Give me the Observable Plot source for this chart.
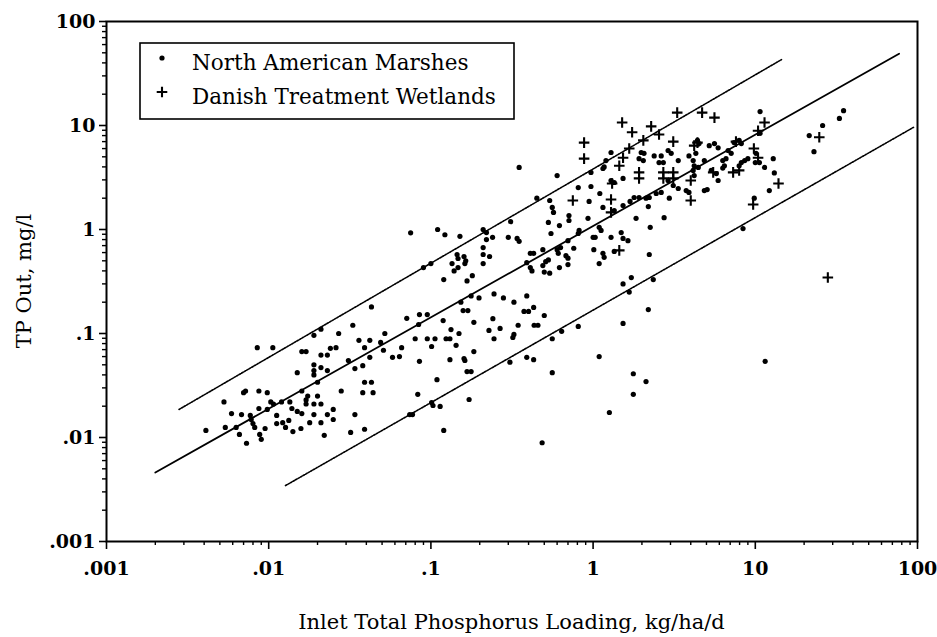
<!DOCTYPE html>
<html><head><meta charset="utf-8">
<script src="https://cdn.jsdelivr.net/npm/d3@7"></script>
<script src="https://cdn.jsdelivr.net/npm/@observablehq/plot@0.6"></script>
<style>
body{margin:0;background:#fff;}
#chart{width:937px;height:637px;}
</style></head><body><div id="chart"></div>
<script>
const tickValues = [0.001, 0.01, 0.1, 1, 10, 100];
const tickLabels = [".001", ".01", ".1", "1", "10", "100"];
const legendLabels = ["North American Marshes", "Danish Treatment Wetlands"];
const xLabel = "Inlet Total Phosphorus Loading, kg/ha/d";
const yLabel = "TP Out, mg/l";

// [inlet TP loading kg/ha/d, TP out mg/l]
const marshes = [
[0.043,0.18],[0.071,0.14],[0.0085,0.073],[0.0106,0.073],[0.019,0.096],[0.021,0.11],[0.027,0.10],[0.033,0.12],[0.052,0.10],[0.036,0.086],[0.042,0.086],[0.049,0.082],[0.016,0.067],[0.017,0.067],[0.024,0.072],[0.026,0.073],[0.021,0.062],[0.023,0.062],[0.039,0.073],[0.051,0.069],[0.066,0.073],[0.058,0.059],[0.064,0.060],[0.042,0.059],[0.031,0.055],[0.019,0.050],[0.019,0.044],[0.021,0.047],[0.023,0.044],[0.015,0.042],[0.034,0.046],[0.038,0.049],[0.019,0.040],[0.020,0.034],[0.039,0.034],[0.043,0.034],
[0.0072,0.028],[0.0070,0.027],[0.0087,0.028],[0.0098,0.027],[0.016,0.028],[0.028,0.028],[0.038,0.027],[0.044,0.027],[0.0053,0.022],[0.0103,0.022],[0.0107,0.021],[0.012,0.022],[0.0135,0.022],[0.017,0.023],[0.0174,0.025],[0.020,0.025],[0.017,0.021],[0.019,0.021],[0.021,0.021],[0.0087,0.019],[0.0098,0.0186],[0.0059,0.017],[0.0068,0.0166],[0.0077,0.0163],[0.0078,0.0149],[0.0112,0.0163],[0.0139,0.019],[0.015,0.0178],[0.016,0.017],[0.019,0.0166],[0.023,0.0166],[0.025,0.0186],[0.025,0.0149],[0.034,0.0166],[0.0041,0.0117],[0.0054,0.0125],[0.0063,0.0125],[0.0080,0.0136],[0.0082,0.0125],[0.0066,0.0107],[0.0095,0.0122],[0.0112,0.0136],[0.0122,0.0139],[0.0127,0.0125],[0.0133,0.0146],[0.0141,0.0114],[0.0158,0.0122],[0.0179,0.0139],[0.021,0.0139],[0.022,0.0105],[0.0088,0.0107],[0.0090,0.0096],[0.0073,0.0088],[0.032,0.0112],[0.039,0.012],[0.074,0.0166],
[0.090,0.43],[0.10,0.47],[0.135,0.47],[0.147,0.43],[0.162,0.47],[0.139,0.40],[0.21,0.47],[0.18,0.36],[0.167,0.32],[0.12,0.33],[0.39,0.48],[0.41,0.43],[0.50,0.39],[0.54,0.38],[0.51,0.49],[0.62,0.43],[0.70,0.46],[1.09,0.47],[1.72,0.345],[1.53,0.30],[1.67,0.25],[2.19,0.17],[1.53,0.125],
[0.177,0.23],[0.153,0.20],[0.198,0.22],[0.245,0.24],[0.28,0.22],[0.325,0.20],[0.39,0.23],[0.43,0.178],[0.375,0.163],[0.40,0.163],[0.50,0.149],[0.158,0.166],[0.169,0.166],[0.085,0.152],[0.095,0.152],[0.119,0.133],[0.184,0.128],[0.241,0.139],[0.084,0.122],[0.133,0.109],[0.149,0.10],[0.228,0.107],[0.267,0.112],[0.345,0.12],[0.433,0.12],[0.457,0.12],[0.325,0.098],[0.32,0.0915],[0.245,0.089],[0.080,0.089],[0.095,0.089],[0.106,0.089],[0.124,0.089],[0.131,0.089],[0.101,0.075],[0.143,0.077],[0.184,0.067],[0.085,0.054],[0.131,0.056],[0.16,0.0575],[0.162,0.055],[0.167,0.043],[0.177,0.043],[0.109,0.036],[0.307,0.053],[0.39,0.059],[0.43,0.056],[0.56,0.089],[0.64,0.105],[0.81,0.117],[0.56,0.042],[1.09,0.060],[1.77,0.041],[2.12,0.0345],[1.77,0.026],[1.26,0.0174],[0.083,0.026],[0.101,0.0217],[0.103,0.0203],[0.114,0.0199],[0.172,0.0232],[0.077,0.0166],[0.12,0.0117],[0.485,0.0089],[11.5,0.054],[2.35,0.33],[8.4,1.02],
[0.075,0.93],[0.11,1.0],[0.122,0.89],[0.151,0.86],[0.21,0.67],[0.21,0.575],[0.23,0.55],[0.145,0.575],[0.147,0.526],[0.16,0.55],[0.164,0.50],[0.35,3.95],[0.60,3.3],[0.45,2.0],[0.54,1.9],[0.56,1.63],[0.57,1.46],[0.53,1.17],[0.62,1.09],[0.55,0.915],[0.31,1.19],[0.21,1.0],[0.22,0.935],[0.22,0.80],[0.24,0.84],[0.30,0.84],[0.34,0.82],[0.35,0.77],[0.41,0.59],[0.43,0.59],[0.49,0.64],[0.60,0.64],[0.53,0.51],[0.49,0.45],[0.42,0.40],[0.63,0.67],[0.70,0.78],[0.76,0.66],
[4.4,7.2],[4.5,6.7],[5.2,6.4],[5.6,6.7],[5.9,6.1],[6.8,5.75],[1.29,5.5],[1.2,4.6],[1.17,4.0],[1.15,3.86],[1.98,5.5],[2.06,5.4],[1.92,4.8],[2.04,4.6],[2.38,5.1],[2.63,5.1],[2.55,4.4],[2.71,4.4],[2.9,5.75],[3.03,5.4],[3.35,4.6],[2.9,2.96],[3.12,2.65],[3.35,2.48],[3.9,5.1],[4.14,4.6],[4.2,4.1],[4.14,3.7],[4.45,3.95],[4.2,3.3],[4.3,5.4],[4.85,4.6],[5.35,3.7],[5.75,3.45],[5.9,2.96],[6.6,4.8],[3.75,2.37],[3.9,2.27],[4.85,2.37],[2.95,2.0],[2.63,2.27],[2.45,2.22],[2.22,2.03],[2.12,2.0],[1.53,3.1],[1.29,2.96],[1.35,2.83],[0.97,3.54],[0.81,2.53],[0.97,2.59],[1.1,2.22],[0.945,1.86],[1.15,1.63],[1.53,1.7],[1.69,1.86],[1.79,2.03],[1.92,2.03],[1.35,1.52],[2.19,1.66],[1.84,1.28],[2.74,1.3],[2.25,1.05],[0.71,1.36],[0.71,1.22],[0.93,1.28],[1.09,1.05],[0.82,0.98],[0.81,0.915],[1.49,0.935],[1.0,0.84],[1.03,0.84],[1.29,0.84],[1.53,0.82],[1.64,0.78],[0.61,0.59],[1.01,0.64],[1.15,0.59],[1.17,0.54],[1.35,0.615],[0.68,0.56],[0.70,0.53],[2.22,0.575],[1.12,0.98],
[10.7,13.6],[35,13.9],[33,11.7],[26,10],[21.5,8.0],[23,5.6],[7.4,6.85],[7.95,7.2],[8.2,6.7],[7.1,5.4],[6.3,4.6],[6.45,4.1],[8.2,4.4],[8.6,4.6],[9.0,4.8],[7.95,4.1],[10,4.4],[10.6,4.4],[11.4,3.95],[12.9,4.8],[13.1,3.5],[12.2,2.37],[9.85,2.0],[10.1,5.4],[10.7,8.4],[5.05,2.42],[6.3,3.9]
];

const danish = [
[3.3,13.3],[4.7,13.3],[5.6,11.9],[1.51,10.7],[1.74,8.6],[2.28,9.8],[2.55,8.2],[2.04,7.2],[3.12,7.0],[0.88,6.85],[0.88,4.8],[1.45,4.1],[1.67,6.0],[1.53,4.9],[2.71,3.54],[2.71,3.1],[3.12,3.54],[3.12,3.1],[4.0,2.96],[4.0,1.9],[1.92,3.54],[1.92,3.1],[0.75,1.9],[1.29,1.94],[1.29,1.46],[1.45,0.63],[11.4,10.7],[10.4,8.9],[9.8,6.0],[10.4,4.9],[7.3,3.54],[7.95,3.7],[13.9,2.77],[9.7,1.74],[24.8,7.7],[28,0.345],[4.4,6.85],[4.2,6.4],[5.5,3.54],[7.6,7.0],[1.31,2.77]
];

// regression line and bounds: endpoints [x, y]
const fitLine = [[0.002, 0.0046], [77, 49]];
const upperLine = [[0.0028, 0.0186], [14.5, 43]];
const lowerLine = [[0.0127, 0.00345], [94.5, 9.6]];

const minorTicks = [];
for (let e = -3; e < 2; e++) for (let m = 2; m <= 9; m++) minorTicks.push(m * Math.pow(10, e));
const fmt = d => { const i = tickValues.findIndex(v => Math.abs(v - d) / v < 1e-9); return i < 0 ? "" : tickLabels[i]; };

const W = 937, H = 637, ML = 106, MR = 20, MT = 21, MB = 96;
const FONT = "DejaVu Serif";
const PLUS_R = 3.5;

const chart = Plot.plot({
  width: W, height: H,
  marginLeft: ML, marginRight: MR, marginTop: MT, marginBottom: MB,
  style: {fontFamily: FONT, fontSize: "19px", color: "black", background: "white", overflow: "visible"},
  x: {type: "log", domain: [0.001, 100]},
  y: {type: "log", domain: [0.001, 100]},
  marks: [
    Plot.axisX(minorTicks, {tickSize: 4, strokeWidth: 1.4, fill: "none", label: null}),
    Plot.axisY(minorTicks, {tickSize: 4, strokeWidth: 1.4, fill: "none", label: null}),
    Plot.axisX(tickValues, {tickSize: 8, tickPadding: 12, strokeWidth: 1.6, tickFormat: fmt, label: null, fontWeight: "bold"}),
    Plot.axisY(tickValues, {tickSize: 7, tickPadding: 4, strokeWidth: 1.6, tickFormat: fmt, label: null, fontWeight: "bold"}),
    Plot.line(upperLine, {x: d => d[0], y: d => d[1], stroke: "black", strokeWidth: 1.6, strokeDasharray: "1.6,1.3"}),
    Plot.line(lowerLine, {x: d => d[0], y: d => d[1], stroke: "black", strokeWidth: 1.6, strokeDasharray: "1.6,1.3"}),
    Plot.line(fitLine, {x: d => d[0], y: d => d[1], stroke: "black", strokeWidth: 1.8}),
    Plot.dot(marshes, {x: d => d[0], y: d => d[1], r: 2.6, fill: "black", stroke: "none"}),
    Plot.dot(danish, {x: d => d[0], y: d => d[1], r: PLUS_R, symbol: "plus", stroke: "black", strokeWidth: 2.1}),
    Plot.frame({stroke: "black", strokeWidth: 2})
  ]
});
document.getElementById("chart").appendChild(chart);

const svg = d3.select(chart);
// axis titles
svg.append("text").attr("x", (ML + W - MR) / 2).attr("y", 629).attr("text-anchor", "middle")
  .attr("font-family", FONT).attr("font-size", 21).attr("fill", "black").text(xLabel);
svg.append("text").attr("transform", `translate(31,${(MT + H - MB) / 2}) rotate(-90)`).attr("text-anchor", "middle")
  .attr("font-family", FONT).attr("font-size", 21).attr("fill", "black").text(yLabel);

// legend
const lg = svg.append("g").attr("text-anchor", "start");
lg.append("rect").attr("x", 140).attr("y", 43).attr("width", 374).attr("height", 76)
  .attr("fill", "white").attr("stroke", "black").attr("stroke-width", 1.6);
lg.append("circle").attr("cx", 162).attr("cy", 58).attr("r", 2.6).attr("fill", "black");
lg.append("path").attr("d", d3.symbol(d3.symbolPlus, PLUS_R * PLUS_R * Math.PI)()).attr("transform", "translate(162,92)")
  .attr("stroke", "black").attr("stroke-width", 2.1).attr("fill", "none");
legendLabels.forEach((t, i) => {
  lg.append("text").attr("x", 192).attr("y", 70 + i * 34).attr("text-anchor", "start")
    .attr("font-family", FONT).attr("font-size", 21.5).attr("fill", "black").text(t);
});
</script></body></html>
